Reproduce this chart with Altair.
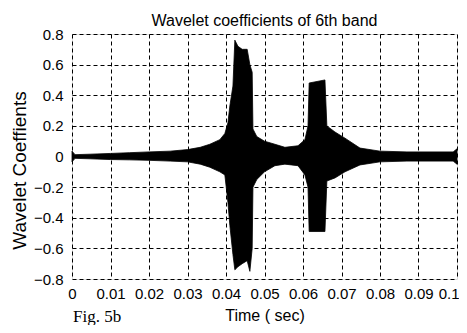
import altair as alt
import pandas as pd

# Envelope of the wavelet coefficients
time_s = [0.0, 0.0008, 0.0047, 0.010, 0.015, 0.020, 0.0255, 0.030, 0.0333, 0.0358,
          0.0384, 0.0397, 0.0405, 0.0410, 0.0418, 0.0423, 0.0431, 0.0442, 0.0455, 0.0462,
          0.0468, 0.0470, 0.0480, 0.0500, 0.0527, 0.0553, 0.0587, 0.0605, 0.0613, 0.0616,
          0.0657, 0.0662, 0.0683, 0.0709, 0.0748, 0.0800, 0.0870, 0.0990, 0.1000]
upper = [0.035, 0.012, 0.015, 0.020, 0.025, 0.030, 0.035, 0.045, 0.060, 0.080,
         0.110, 0.150, 0.220, 0.330, 0.460, 0.760, 0.720, 0.700, 0.700, 0.600,
         0.550, 0.180, 0.130, 0.100, 0.080, 0.060, 0.070, 0.110, 0.200, 0.480,
         0.500, 0.200, 0.160, 0.120, 0.055, 0.035, 0.030, 0.030, 0.050]
lower = [-0.035, -0.012, -0.015, -0.020, -0.022, -0.025, -0.030, -0.035, -0.050, -0.070,
         -0.100, -0.120, -0.300, -0.450, -0.640, -0.740, -0.720, -0.700, -0.680, -0.750,
         -0.600, -0.200, -0.150, -0.100, -0.060, -0.050, -0.060, -0.120, -0.200, -0.490,
         -0.490, -0.160, -0.140, -0.100, -0.055, -0.035, -0.030, -0.030, -0.050]

x_ticks = [0, 0.01, 0.02, 0.03, 0.04, 0.05, 0.06, 0.07, 0.08, 0.09, 0.1]
y_ticks = [-0.8, -0.6, -0.4, -0.2, 0, 0.2, 0.4, 0.6, 0.8]

df = pd.DataFrame({"t": time_s, "hi": upper, "lo": lower})

FONT = "Liberation Sans"

base = alt.Chart(df)

signal = base.mark_area(color="black", interpolate="linear", stroke="black", strokeWidth=0.8).encode(
    x=alt.X("t:Q",
            scale=alt.Scale(domain=[0, 0.1], nice=False),
            axis=alt.Axis(values=x_ticks, format="~g", title="Time ( sec)",
                          grid=True, gridDash=[4, 3], gridColor="black", gridOpacity=1,
                          ticks=False, domain=False, labelPadding=7, labelFlush=False,
                          labelAlign={"condition": {"test": "datum.value > 0.095", "value": "right"},
                                      "value": "center"},
                          labelOffset={"condition": {"test": "datum.value > 0.095", "value": 2},
                                       "value": 0},
                          labelFont=FONT, labelFontSize=15, labelColor="black",
                          titleFont=FONT, titleFontSize=16, titleFontWeight="normal",
                          titleColor="black", titlePadding=6)),
    y=alt.Y("hi:Q",
            scale=alt.Scale(domain=[-0.8, 0.8], nice=False),
            axis=alt.Axis(values=y_ticks, format="~g", title="Wavelet Coeffients",
                          grid=True, gridDash=[4, 3], gridColor="black", gridOpacity=1,
                          ticks=False, domain=False, labelPadding=9,
                          labelFont=FONT, labelFontSize=15, labelColor="black",
                          titleFont=FONT, titleFontSize=19, titleFontWeight="normal",
                          titleColor="black", titlePadding=4, titleY=136)),
    y2="lo:Q",
)

fig_note = alt.Chart(pd.DataFrame({"s": ["Fig. 5b"]})).mark_text(
    font="Liberation Serif", fontSize=17, align="left", baseline="middle", color="black"
).encode(x=alt.value(1), y=alt.value(283), text="s:N")

chart = alt.layer(signal, fig_note).properties(
    width=385, height=245,
    title=alt.TitleParams("Wavelet coefficients of 6th band", font=FONT, fontSize=16,
                          fontWeight="normal", color="black", offset=8, frame="group", dy=10),
    autosize=alt.AutoSizeParams(type="none"),
    padding={"left": 64, "top": 26, "right": 2, "bottom": 46},
).configure_view(stroke="black", strokeWidth=1.3).configure(background="white")

chart.save("out.html", embed_options={"renderer": "svg", "actions": False})
